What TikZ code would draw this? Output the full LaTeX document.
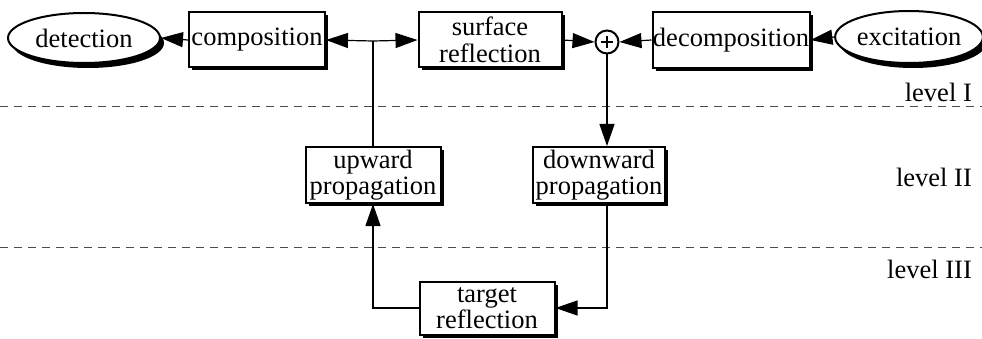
\documentclass[tikz,border=0pt]{standalone}
\usepackage{fontspec}
\setmainfont{Liberation Serif}
\usetikzlibrary{arrows.meta,shapes.geometric,shadows}
\begin{document}
\begin{tikzpicture}[x=1pt,y=-1pt,
  every node/.style={font=\fontsize{26.5}{26.5}\selectfont},
  blockbox/.style={draw,line width=2pt,fill=white,inner sep=0pt,align=center,
    drop shadow={shadow xshift=3pt,shadow yshift=-3pt,fill=black,opacity=1}},
  endpoint/.style={ellipse,draw,line width=2pt,fill=white,inner sep=0pt,
    drop shadow={shadow xshift=4pt,shadow yshift=-5pt,fill=black,opacity=1}},
  summer/.style={circle,draw,line width=2pt,minimum size=23pt,inner sep=0pt,
    path picture={\draw[line width=1.8pt]
      ([xshift=-6pt]path picture bounding box.center) -- ([xshift=6pt]path picture bounding box.center)
      ([yshift=-6pt]path picture bounding box.center) -- ([yshift=6pt]path picture bounding box.center);}},
  link/.style={line width=1.2pt,-{Triangle[length=22pt,width=15pt]}},
  plain/.style={line width=1.2pt},
  levelsep/.style={dash pattern=on 8pt off 6pt,line width=0.8pt,black!70},
  leveltag/.style={anchor=base east,inner sep=0pt}]
\useasboundingbox (0,0) rectangle (982,339);

% level separators
\draw[levelsep] (0,106) -- (982,106);
\draw[levelsep] (0,247) -- (982,247);
\node[leveltag] (l1) at (972,102) {level I};
\node[leveltag] (l2) at (972,186) {level II};
\node[leveltag] (l3) at (972,278) {level III};

% level I
\node[endpoint,minimum width=152pt,minimum height=50pt] (det) at (84,38) {detection};
\node[blockbox,minimum width=136pt,minimum height=55pt] (comp) at (257,40) {composition};
\coordinate (jn) at (373,41);
\node[blockbox,minimum width=143pt,minimum height=55pt] (surf) at (490,40) {surface\\reflection};
\node[summer] (sum) at (607,42) {};
\node[blockbox,minimum width=157pt,minimum height=56pt] (dec) at (731,40) {decomposition};
\node[endpoint,minimum width=128pt,minimum height=52pt] (exc) at (909,37) {excitation};

% level II
\node[blockbox,minimum width=135pt,minimum height=56pt] (up) at (373,175) {upward\\propagation};
\node[blockbox,minimum width=132pt,minimum height=56pt] (down) at (599,175) {downward\\propagation};

% level III
\node[blockbox,minimum width=135pt,minimum height=53pt] (targ) at (487,308) {target\\reflection};

% connectors
\draw[link] (comp.west) -- (det.east);
\draw[link] (jn) -- (comp.east);
\draw[link] (jn) -- (surf.west);
\draw[plain] (up.north) -- (jn);
\draw[link] (surf.east) -- (sum.west);
\draw[link] (dec.west) -- (sum.east);
\draw[link] (exc.west) -- (dec.east);
\draw[link] (sum.south) -- (sum.south |- down.north);
\draw[link] (sum.south |- down.south) |- (targ.east);
\draw[link] (targ.west) -| (up.south);
\end{tikzpicture}
\end{document}
